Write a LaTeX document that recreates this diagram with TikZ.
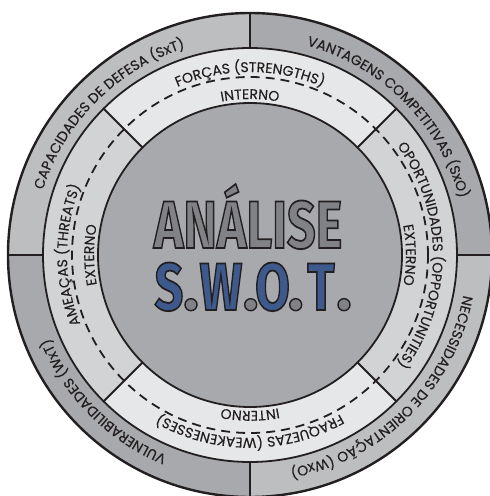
\documentclass[tikz,border=0pt]{standalone}
\usepackage{fontspec}
\usetikzlibrary{decorations.text}
\newfontfamily\pop{Poppins}[FakeBold=0.25]
\newfontfamily\bigf{Fira Sans}
\definecolor{ink}{RGB}{35,31,32}
\definecolor{ringA}{RGB}{188,190,192}
\definecolor{ringB}{RGB}{167,169,172}
\definecolor{midA}{RGB}{230,231,232}
\definecolor{midB}{RGB}{209,211,212}
\definecolor{core}{RGB}{167,169,172}
\definecolor{lettergray}{RGB}{128,130,133}
\definecolor{swotblue}{RGB}{62,89,140}
\newcommand\outlinetext[2]{{\color{#1}\special{pdf:literal 2 Tr 1.8 w 0.137 0.122 0.125 RG}#2\special{pdf:literal 0 Tr}}}
\newcommand\bigletters[2]{\scalebox{0.75}[1]{\bigf\bfseries\fontsize{67}{67}\selectfont\outlinetext{#1}{#2}}}
\begin{document}
\begin{tikzpicture}[x=1pt,y=1pt,
  sep/.style={draw=ink, line width=1.8pt},
  arctext/.style={decorate, decoration={text along path, text align=center, text color=ink,
     text={|\pop\fontsize{14}{16}\selectfont|#1}}},
  dotnode/.style={circle, fill=lettergray, draw=ink, line width=1.4pt, minimum size=12pt, inner sep=0pt},
  bigl/.style={anchor=base, inner sep=0pt}]
\useasboundingbox (-250,-241) rectangle (240,255);
\coordinate (c) at (0,0);
% outer ring quadrants
\fill[ringA] (c) -- (90:242) arc[start angle=90,end angle=180,radius=242] -- cycle;
\fill[ringB] (c) -- (0:242) arc[start angle=0,end angle=90,radius=242] -- cycle;
\fill[ringB] (c) -- (180:242) arc[start angle=180,end angle=270,radius=242] -- cycle;
\fill[ringA] (c) -- (270:242) arc[start angle=270,end angle=360,radius=242] -- cycle;
% middle ring sectors
\fill[midA] (c) -- (45:207) arc[start angle=45,end angle=135,radius=207] -- cycle;
\fill[midB] (c) -- (135:207) arc[start angle=135,end angle=225,radius=207] -- cycle;
\fill[midA] (c) -- (225:207) arc[start angle=225,end angle=315,radius=207] -- cycle;
\fill[midB] (c) -- (315:207) arc[start angle=315,end angle=405,radius=207] -- cycle;
% core
\fill[core] (c) circle[radius=152];
% lines
\draw[ink, line width=2.4pt] (c) circle[radius=242];
\draw[sep] (c) circle[radius=207];
\draw[sep] (c) circle[radius=152];
\draw[ink, line width=1.8pt, dash pattern=on 9pt off 6pt] (c) circle[radius=178];
\foreach \a in {0,90,180,270} \draw[sep] (\a:207) -- (\a:242);
\foreach \a in {45,135,225,315} \draw[sep] (\a:152) -- (\a:207);
% center title
\node[dotnode] (d1) at (-59,-49.7) {};
\node[dotnode] (d2) at (0.7,-49.7) {};
\node[dotnode] (d3) at (45.7,-49.7) {};
\node[dotnode] (d4) at (94,-49.7) {};
\node[bigl] (ls) at (-81,-55) {\bigletters{swotblue}{S}};
\node[bigl] (lw) at (-29,-55) {\bigletters{swotblue}{W}};
\node[bigl] (lo) at (22.5,-55) {\bigletters{swotblue}{O}};
\node[bigl] (lt) at (71,-55) {\bigletters{swotblue}{T}};
\node[bigl] (title) at (-2,7) {\bigletters{lettergray}{ANÁLISE}};
% outer texts
\path[arctext={CAPACIDADES DE DEFESA (SxT)}] (180:217) arc[start angle=180,end angle=90,radius=217];
\path[arctext={VANTAGENS COMPETITIVAS (SxO)}] (90:217) arc[start angle=90,end angle=0,radius=217];
\path[arctext={NECESSIDADES DE ORIENTAÇÃO (WxO)}] (0:217) arc[start angle=0,end angle=-90,radius=217];
\path[arctext={VULNERABILIDADES (WxT)}] (-90:217) arc[start angle=-90,end angle=-180,radius=217];
% middle texts
\path[arctext={FORÇAS (STRENGTHS)}] (135:183) arc[start angle=135,end angle=45,radius=183];
\path[arctext={OPORTUNIDADES (OPPORTUNITIES)}] (45:183) arc[start angle=45,end angle=-45,radius=183];
\path[arctext={FRAQUEZAS (WEAKENESSES)}] (-45:183) arc[start angle=-45,end angle=-135,radius=183];
\path[arctext={AMEAÇAS (THREATS)}] (225:183) arc[start angle=225,end angle=135,radius=183];
\path[arctext={INTERNO}] (135:156) arc[start angle=135,end angle=45,radius=156];
\path[arctext={EXTERNO}] (45:156) arc[start angle=45,end angle=-45,radius=156];
\path[arctext={INTERNO}] (-45:156) arc[start angle=-45,end angle=-135,radius=156];
\path[arctext={EXTERNO}] (225:156) arc[start angle=225,end angle=135,radius=156];
\end{tikzpicture}
\end{document}
